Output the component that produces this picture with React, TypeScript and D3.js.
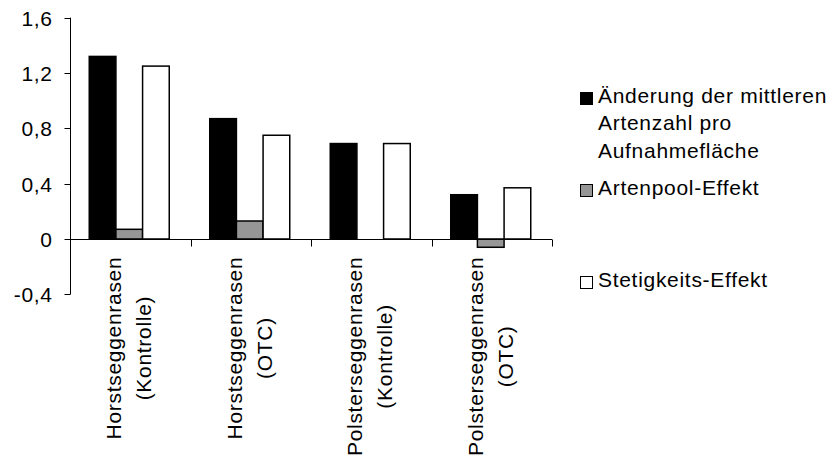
import React, { useEffect, useRef } from "react";
import * as d3 from "d3";

const categoryLine1 = ["Horstseggenrasen", "Horstseggenrasen", "Polsterseggenrasen", "Polsterseggenrasen"];
const categoryLine2 = ["(Kontrolle)", "(OTC)", "(Kontrolle)", "(OTC)"];
const seriesKeys = ["change", "pool", "frequency"];
const changeValues = [1.32, 0.87, 0.69, 0.32];
const poolValues = [0.07, 0.13, 0, -0.06];
const frequencyValues = [1.25, 0.75, 0.69, 0.37];
const legendLines = [
  ["Änderung der mittleren", "Artenzahl pro", "Aufnahmefläche"],
  ["Artenpool-Effekt"],
  ["Stetigkeits-Effekt"],
];
const yTicks = [-0.4, 0, 0.4, 0.8, 1.2, 1.6];

const W = 834;
const H = 461;
const FONT = "'Liberation Sans', Arial, sans-serif";
const FS = 21;
const LS = 0.7;
const fills = ["#000000", "#969696", "#ffffff"];

export default function App() {
  const ref = useRef<SVGSVGElement>(null);

  useEffect(() => {
    const svg = d3.select(ref.current);
    svg.selectAll("*").remove();

    const x0 = d3.scaleBand<string>().domain(categoryLine1.map((_, i) => String(i))).range([70, 552]).padding(0);
    const x1 = d3.scaleBand<string>().domain(seriesKeys).range([0, 80]).padding(0);
    const y = d3.scaleLinear().domain([-0.4, 1.6]).range([294.3, 17.7]);
    const values = [changeValues, poolValues, frequencyValues];

    // bars
    const g = svg.append("g");
    categoryLine1.forEach((_, ci) => {
      const bx = (x0(String(ci)) as number) + (x0.bandwidth() - 80) / 2 - 1;
      seriesKeys.forEach((k, si) => {
        const v = values[si][ci];
        if (v === 0) return;
        const top = y(Math.max(0, v));
        const bot = y(Math.min(0, v));
        g.append("rect")
          .attr("x", bx + (x1(k) as number))
          .attr("y", top)
          .attr("width", x1.bandwidth())
          .attr("height", bot - top)
          .attr("fill", fills[si])
          .attr("stroke", "#000")
          .attr("stroke-width", 1.5);
      });
    });

    // y axis
    const axisX = 70.5;
    svg.append("line").attr("x1", axisX).attr("x2", axisX).attr("y1", y(1.6)).attr("y2", y(-0.4)).attr("stroke", "#000").attr("stroke-width", 1);
    yTicks.forEach((t) => {
      const ty = Math.round(y(t)) + 0.5;
      svg.append("line").attr("x1", axisX - 6).attr("x2", axisX).attr("y1", ty).attr("y2", ty).attr("stroke", "#000");
      svg.append("text")
        .attr("x", 52 + LS)
        .attr("y", ty)
        .attr("dy", "0.36em")
        .attr("text-anchor", "end")
        .attr("font-family", FONT)
        .attr("font-size", FS)
        .attr("letter-spacing", LS)
        .text(t === 0 ? "0" : d3.format(".1f")(t).replace(".", ",").replace("−", "-"));
    });

    // x axis
    const zeroY = Math.round(y(0)) + 0.5;
    svg.append("line").attr("x1", 70).attr("x2", 552).attr("y1", zeroY).attr("y2", zeroY).attr("stroke", "#000");
    const bounds = [...categoryLine1.map((_, i) => x0(String(i)) as number), 552];
    bounds.forEach((bxv) => {
      const xx = Math.round(bxv) + 0.5;
      svg.append("line").attr("x1", xx).attr("x2", xx).attr("y1", zeroY).attr("y2", zeroY + 7).attr("stroke", "#000");
    });

    // category labels (rotated)
    categoryLine1.forEach((l1, ci) => {
      const cx = (x0(String(ci)) as number) + x0.bandwidth() / 2;
      const lines = [l1, categoryLine2[ci]];
      const offs = [-9, 21];
      const nodes = lines.map((txt) =>
        svg.append("text")
          .attr("font-family", FONT)
          .attr("font-size", FS)
          .attr("letter-spacing", LS)
          .attr("text-anchor", "middle")
          .text(txt)
      );
      const lens = nodes.map((n) => (n.node() as SVGTextElement).getComputedTextLength());
      const maxLen = Math.max(...lens);
      const centerY = 257 + maxLen / 2;
      nodes.forEach((n, li) => {
        const bx = cx + offs[li];
        n.attr("transform", `translate(${bx},${centerY}) rotate(-90)`).attr("x", LS / 2).attr("y", 0);
      });
    });

    // legend
    const legendBase = [[102.7, 130.4, 158], [195], [287]];
    legendLines.forEach((lines, i) => {
      const b0 = legendBase[i][0];
      svg.append("rect")
        .attr("x", 580.5)
        .attr("y", Math.round(b0 - 11) + 0.5)
        .attr("width", 12)
        .attr("height", 12)
        .attr("fill", fills[i])
        .attr("stroke", "#000")
        .attr("stroke-width", 1);
      lines.forEach((txt, li) => {
        svg.append("text")
          .attr("x", 598)
          .attr("y", legendBase[i][li])
          .attr("font-family", FONT)
          .attr("font-size", FS)
          .attr("letter-spacing", LS)
          .text(txt);
      });
    });
  }, []);

  return (
    <svg
      ref={ref}
      width={W}
      height={H}
      style={{ position: "absolute", left: 0, top: 0, background: "#fff" }}
    />
  );
}
